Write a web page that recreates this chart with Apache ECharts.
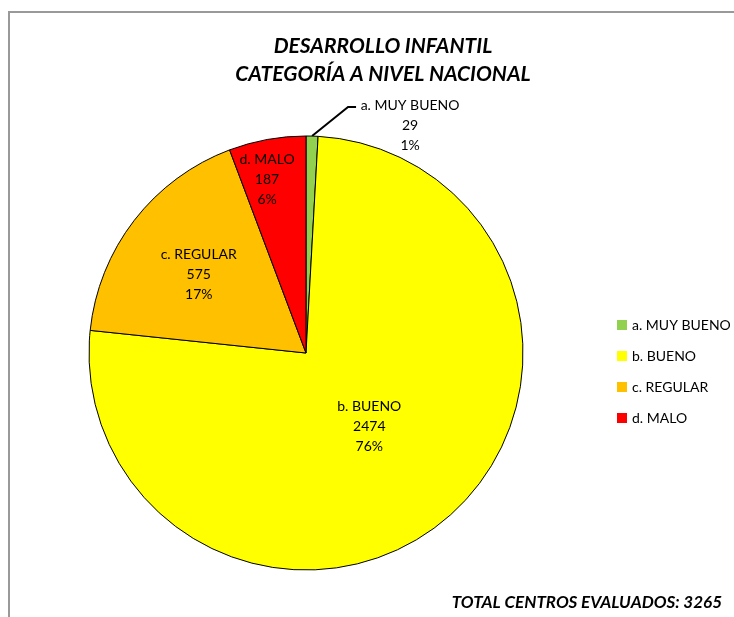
<!DOCTYPE html>
<html>
<head>
<meta charset="utf-8">
<script src="https://cdn.jsdelivr.net/npm/echarts@6/dist/echarts.min.js"></script>
<style>
  html, body { margin: 0; padding: 0; background: #fff; }
  #chart { width: 734px; height: 617px; }
</style>
</head>
<body>
<div id="chart"></div>
<script>
// datos
const categorias = ['a. MUY BUENO', 'b. BUENO', 'c. REGULAR', 'd. MALO'];
const valores = [29, 2474, 575, 187];
const colores = ['#92D050', '#FFFF00', '#FFC000', '#FF0000'];

const FONT = 'Lato, "Noto Sans", sans-serif';
const total = valores.reduce((a, b) => a + b, 0);

// ajuste de etiquetas internas (como en excel)
const offsets = [[0, 0], [-9, -11], [-19, -10], [-19, -64]];

const datos = categorias.map((name, i) => {
  const item = { name: name, value: valores[i], itemStyle: { color: colores[i] } };
  if (i === 0) {
    item.label = {
      position: 'outside',
      formatter: '{n|{b}}\n{n|{c}}\n{n|{d}%}',
      rich: { n: { width: 104, align: 'center', fontSize: 14, lineHeight: 20, fontFamily: FONT, color: '#000' } }
    };
    item.labelLine = { show: true, length: 20, length2: 8, lineStyle: { color: '#000', width: 2 } };
  } else {
    item.label = { offset: offsets[i] };
    item.labelLine = { show: false };
  }
  return item;
});

const chart = echarts.init(document.getElementById('chart'));
const option = {
  backgroundColor: '#fff',
  title: {
    text: 'DESARROLLO INFANTIL\nCATEGORÍA A NIVEL NACIONAL',
    left: 378,
    top: 27,
    textAlign: 'center',
    textStyle: { fontFamily: FONT, fontSize: 21, fontWeight: 'bold', fontStyle: 'italic', color: '#000', lineHeight: 28 }
  },
  legend: {
    orient: 'vertical',
    left: 612,
    top: 313,
    itemWidth: 10,
    itemHeight: 10,
    itemGap: 17,
    icon: 'rect',
    itemStyle: { borderWidth: 0 },
    data: categorias,
    textStyle: { fontFamily: FONT, fontSize: 14, color: '#000' }
  },
  graphic: [
    {
      type: 'rect',
      shape: { x: 9, y: 12, width: 800, height: 700 },
      style: { fill: 'none', stroke: '#999', lineWidth: 2 },
      silent: true
    },
    {
      type: 'text',
      right: 12,
      top: 594,
      style: {
        text: 'TOTAL CENTROS EVALUADOS: ' + total,
        fontFamily: FONT, fontSize: 17, fontWeight: 'bold', fontStyle: 'italic', fill: '#000'
      }
    }
  ],
  series: [{
    type: 'pie',
    center: [306, 353],
    radius: 217,
    startAngle: 90,
    clockwise: true,
    percentPrecision: 0,
    animation: false,
    itemStyle: { borderColor: '#000', borderWidth: 1 },
    label: {
      position: 'inside',
      formatter: '{b}\n{c}\n{d}%',
      fontFamily: FONT,
      fontSize: 14,
      lineHeight: 20,
      color: '#000'
    },
    labelLayout: function (p) {
      if (p.dataIndex !== 0 || !p.labelLinePoints) return {};
      const p0 = p.labelLinePoints[0];
      return {
        x: p0[0] + 46,
        y: p0[1] - 41,
        align: 'left',
        verticalAlign: 'top',
        labelLinePoints: [p0, [p0[0] + 36, p0[1] - 29], [p0[0] + 44, p0[1] - 29]]
      };
    },
    data: datos
  }]
};
chart.setOption(option);
</script>
</body>
</html>
